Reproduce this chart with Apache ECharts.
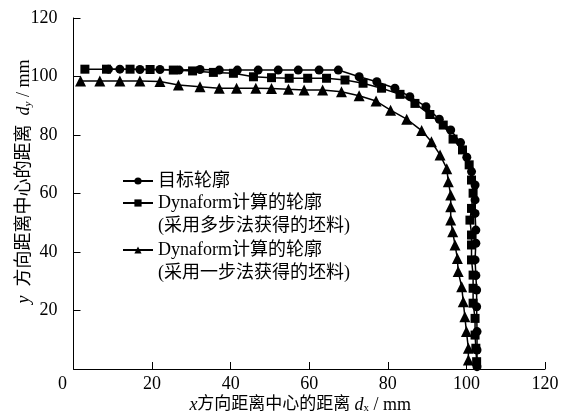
<!DOCTYPE html>
<html><head><meta charset="utf-8">
<script src="https://cdn.jsdelivr.net/npm/echarts@6/dist/echarts.min.js"></script>
<style>html,body{margin:0;padding:0;background:#fff}#c{width:563px;height:417px}</style>
</head><body><div id="c"></div>
<script>
var xTicks = [0, 20, 40, 60, 80, 100, 120];
var yTicks = [0, 20, 40, 60, 80, 100, 120];
var names = ['目标轮廓', 'Dynaform计算的轮廓\n(采用多步法获得的坯料)', 'Dynaform计算的轮廓\n(采用一步法获得的坯料)'];

var targetX = [8.9, 11.8, 16.9, 22.0, 26.9, 32.2, 37.1, 41.7, 47.0, 52.1, 57.2, 62.5, 67.4, 72.7, 77.2, 81.8, 85.6, 89.7, 93.1, 96.0, 98.5, 100.1, 101.3, 102.2, 102.2, 102.2, 102.4, 102.4, 102.2, 102.4, 102.6, 102.6, 102.7, 102.7, 102.7];
var targetY = [102.5, 102.5, 102.4, 102.4, 102.2, 102.4, 102.2, 102.2, 102.2, 102.2, 102.2, 102.2, 102.2, 99.9, 98.2, 96.0, 93.1, 89.7, 85.4, 81.7, 77.4, 72.4, 67.5, 62.9, 57.8, 53.2, 47.5, 43.0, 37.3, 32.0, 27.0, 21.3, 12.8, 6.5, 0.8];

var multiX = [2.9, 8.4, 14.4, 19.5, 25.4, 30.3, 35.6, 40.7, 45.8, 50.4, 54.9, 59.6, 64.4, 69.1, 73.7, 78.4, 83.1, 86.9, 90.7, 94.1, 96.6, 99.0, 100.7, 101.3, 101.7, 101.3, 100.9, 101.3, 101.3, 101.3, 101.7, 101.7, 101.7, 102.2, 102.2, 102.4, 102.6];
var multiY = [102.5, 102.5, 102.5, 102.4, 102.2, 101.9, 101.4, 101.1, 99.9, 99.6, 99.4, 99.4, 99.4, 98.8, 97.7, 96.0, 93.9, 90.8, 87.0, 83.4, 78.6, 74.9, 69.8, 64.6, 60.1, 54.9, 50.9, 45.8, 42.4, 37.3, 32.1, 27.6, 22.5, 17.3, 11.6, 7.1, 2.5];

var oneX = [1.8, 6.7, 11.8, 16.9, 22.0, 26.7, 32.2, 37.1, 41.5, 46.4, 50.4, 54.7, 58.7, 63.4, 68.2, 72.7, 77.0, 80.7, 84.8, 88.6, 91.1, 93.3, 95.0, 95.4, 96.0, 96.0, 96.0, 96.5, 97.1, 97.7, 97.9, 98.8, 99.2, 99.6, 100.0, 100.5, 100.5];
var oneY = [98.5, 98.5, 98.5, 98.5, 98.3, 97.1, 96.5, 96.0, 96.0, 96.0, 95.9, 95.6, 95.4, 95.4, 94.8, 93.4, 91.6, 88.5, 85.4, 81.5, 77.7, 73.2, 68.5, 64.0, 59.5, 55.5, 50.9, 46.9, 42.4, 37.8, 33.3, 28.1, 23.0, 17.9, 12.8, 7.1, 3.1];

function pairs(xs, ys) { return xs.map(function (x, i) { return [x, ys[i]]; }); }

var FONT = '"Liberation Serif","Noto Sans CJK SC",serif';
var chart = echarts.init(document.getElementById('c'), null, {renderer: 'canvas'});

function legendCfg(name, top, multi) {
  return {
    data: [name], left: 122, top: top, padding: 0, orient: 'vertical',
    itemWidth: 30, itemHeight: 9, selectedMode: false,
    formatter: function (n) { return multi ? ' \n' + n : n; },
    textStyle: {fontFamily: FONT, fontSize: 18, color: '#000', lineHeight: 23}
  };
}

function nameRich(cjkSize, subItalic) {
  return {
    i: {fontFamily: FONT, fontStyle: 'italic', fontSize: 18, color: '#000'},
    n: {fontFamily: FONT, fontSize: cjkSize, color: '#000'},
    s: {fontFamily: FONT, fontStyle: subItalic ? 'italic' : 'normal', fontSize: 11, color: '#000', verticalAlign: 'bottom', padding: [6, 0, 0, 0]},
    m: {fontFamily: FONT, fontSize: 18, color: '#000'}
  };
}

chart.setOption({
  animation: false,
  backgroundColor: '#fff',
  textStyle: {fontFamily: FONT},
  grid: {left: 73.5, right: 18, top: 18, bottom: 48, containLabel: false, outerBoundsMode: 'none'},
  legend: [
    legendCfg(names[0], 169.5, false),
    legendCfg(names[1], 168.5, true),
    legendCfg(names[2], 215.5, true)
  ],
  xAxis: {
    type: 'value', min: xTicks[0], max: xTicks[xTicks.length - 1], interval: 20,
    axisLine: {lineStyle: {color: '#000', width: 1}},
    axisTick: {inside: true, length: 7, lineStyle: {color: '#000'}},
    splitLine: {show: false},
    axisLabel: {
      color: '#000', fontSize: 18, fontFamily: FONT, margin: 6,
      formatter: function (v) { return v === 0 ? '{z|0}' : String(v); },
      rich: {z: {fontSize: 18, fontFamily: FONT, color: '#000', padding: [0, 22, 0, 0]}}
    },
    name: '{i|x}{n|方向距离中心的距离 }{i|d}{s|x}{m| / mm}',
    nameLocation: 'middle', nameGap: 27, nameMoveOverlap: false,
    nameTextStyle: {color: '#000', padding: [0, 18, 0, 0], rich: nameRich(17, false)}
  },
  yAxis: {
    type: 'value', min: yTicks[0], max: yTicks[yTicks.length - 1], interval: 20,
    axisLine: {show: true, lineStyle: {color: '#000', width: 1}},
    axisTick: {show: true, inside: true, length: 7, lineStyle: {color: '#000'}},
    splitLine: {show: false},
    axisLabel: {color: '#000', fontSize: 18, fontFamily: FONT, margin: 16, showMinLabel: false},
    name: '{i|y}{n|  方向距离中心的距离  }{i|d}{s|y}{m| / mm}',
    nameLocation: 'middle', nameGap: 40, nameRotate: 90, nameMoveOverlap: false,
    nameTextStyle: {color: '#000', padding: [0, 0, 0, 24], rich: nameRich(18, true)}
  },
  series: [
    {name: names[0], type: 'line', data: pairs(targetX, targetY), symbol: 'circle', symbolSize: 9,
     itemStyle: {color: '#000'}, lineStyle: {color: '#000', width: 1.5}},
    {name: names[1], type: 'line', data: pairs(multiX, multiY), symbol: 'rect', symbolSize: 9,
     itemStyle: {color: '#000'}, lineStyle: {color: '#000', width: 1.5}},
    {name: names[2], type: 'line', data: pairs(oneX, oneY), symbol: 'triangle', symbolSize: 11,
     itemStyle: {color: '#000'}, lineStyle: {color: '#000', width: 1.5}}
  ]
});
</script></body></html>
